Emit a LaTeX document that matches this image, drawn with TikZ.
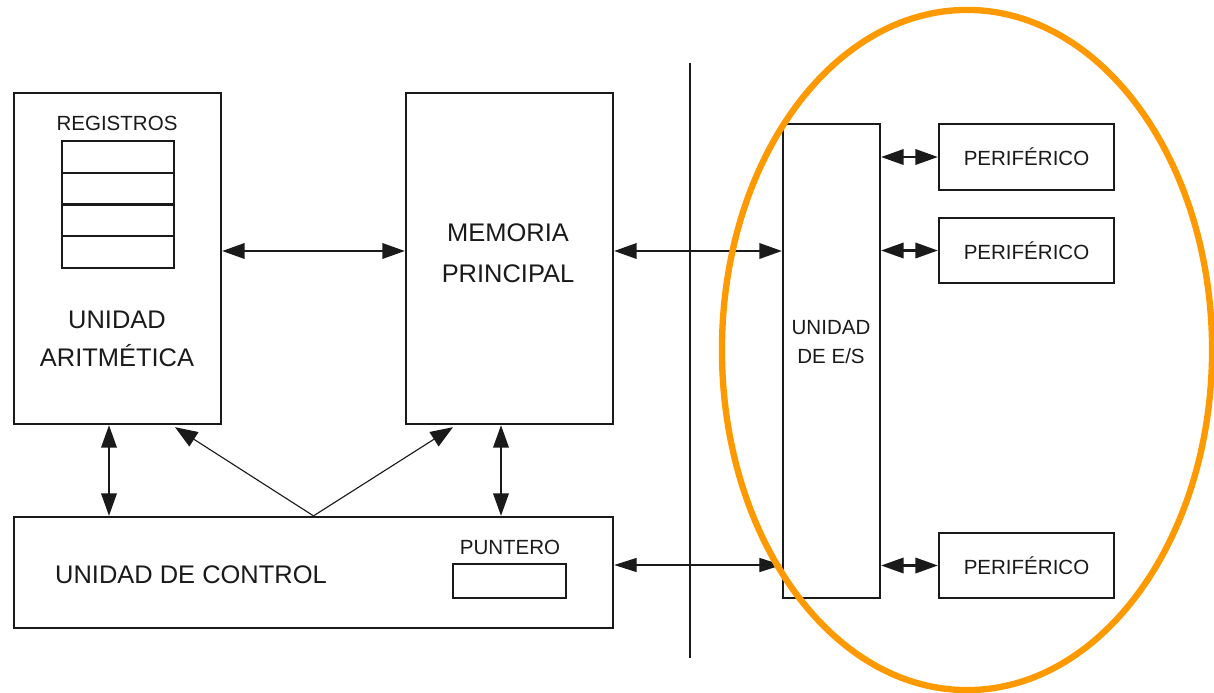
\documentclass[tikz,border=0pt]{standalone}
\usepackage{fontspec}
\setmainfont{Liberation Sans}
\definecolor{ink}{HTML}{1A1A1A}
\definecolor{ring}{HTML}{FF9900}
\usepackage{tikz}
\usetikzlibrary{arrows.meta,positioning,calc}
\tikzset{
  unit_box/.style={draw=ink,line width=1.6pt,inner sep=0pt,fill=none},
  big_txt/.style={text=ink,font=\fontsize{18.1}{27}\selectfont,align=center,inner sep=0pt},
  small_txt/.style={text=ink,font=\fontsize{14.6}{20.6}\selectfont,align=center,inner sep=0pt},
  arr_both/.style={{Triangle[length=16pt,width=11pt]}-{Triangle[length=16pt,width=11pt]},draw=ink,line width=1.5pt},
  arr_thin/.style={{Triangle[length=16pt,width=10pt]}-{Triangle[length=16pt,width=10pt]},draw=ink,line width=0.8pt},
  arr_one/.style={-{Triangle[length=16pt,width=12pt]},draw=ink,line width=0.8pt},
}
\begin{document}
\begin{tikzpicture}[x=0.025cm,y=-0.025cm]
    \useasboundingbox (0,0) rectangle (1214,692);
    % procesador
    \node[unit_box,minimum width=5.175cm,minimum height=8.275cm] (alu) at (117.5,258.5) {};
    \node[small_txt] (reg_lbl) at (117,123) {REGISTROS};
    \foreach \i in {1,...,4}
      \node[unit_box,minimum width=2.8cm,minimum height=0.794cm] (reg\i) at (118,{141+31.75*(\i-0.5)}) {};
    \node[big_txt] (alu_lbl) at (117,339) {UNIDAD\\ARITMÉTICA};
    \node[unit_box,minimum width=5.175cm,minimum height=8.275cm] (mem) at (509.5,258.5) {};
    \node[big_txt,font=\fontsize{18.1}{29}\selectfont] (mem_lbl) at (508,253) {MEMORIA\\PRINCIPAL};
    \node[unit_box,minimum width=14.975cm,minimum height=2.775cm] (ctrl) at (313.5,572.5) {};
    \node[big_txt] (ctrl_lbl) at (191,575) {UNIDAD DE CONTROL};
    \node[small_txt] (pc_lbl) at (510,547) {PUNTERO};
    \node[unit_box,minimum width=2.825cm,minimum height=0.85cm] (pc) at (509.5,581) {};
    % entrada / salida
    \node[unit_box,minimum width=2.425cm,minimum height=11.85cm] (es) at (831.5,361) {};
    \node[small_txt] (es_lbl) at (831,342) {UNIDAD\\DE E/S};
    \node[unit_box,minimum width=4.375cm,minimum height=1.65cm] (per1) at (1026.5,157) {};
    \node[unit_box,minimum width=4.375cm,minimum height=1.625cm] (per2) at (1026.5,250.5) {};
    \node[unit_box,minimum width=4.375cm,minimum height=1.625cm] (per3) at (1026.5,565.5) {};
    \foreach \p in {per1,per2,per3}
      \node[small_txt] at (\p) {PERIFÉRICO};
    \coordinate (div_top) at (690,63);
    \coordinate (div_bot) at (690,658);
    \draw[ink,line width=0.8pt] (div_top) -- (div_bot);
    \draw[arr_both] ([yshift=0.1875cm]alu.east) -- ([yshift=0.1875cm]mem.west);
    \draw[arr_both] ([xshift=-0.2125cm]alu.south) -- ([xshift=-0.2125cm]alu.south |- ctrl.north);
    \draw[arr_both] ([xshift=-0.2125cm]mem.south) -- ([xshift=-0.2125cm]mem.south |- ctrl.north);
    \draw[arr_one] (ctrl.north) -- ([xshift=1.4375cm,yshift=-0.05cm]alu.south);
    \draw[arr_one] (ctrl.north) -- ([xshift=-1.4125cm,yshift=-0.05cm]mem.south);
    \draw[arr_both] ([yshift=0.1875cm]mem.east) -- ([yshift=0.1875cm]mem.east -| es.west);
    \draw[arr_thin] ([yshift=0.1875cm]ctrl.east) -- ([yshift=0.1875cm]ctrl.east -| es.west);
    \draw[arr_both] (per1.west -| es.east) -- (per1.west);
    \draw[arr_both] (per2.west -| es.east) -- (per2.west);
    \draw[arr_both] (per3.west -| es.east) -- (per3.west);
    \draw[ring,line width=4.5pt] (967,350) ellipse [x radius=6.125cm,y radius=8.5cm];
  \end{tikzpicture}
\end{document}
